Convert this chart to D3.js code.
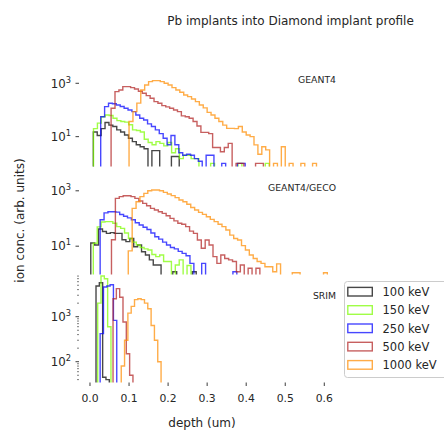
<!DOCTYPE html>
<html>
<head>
<meta charset="utf-8">
<script src="https://cdn.jsdelivr.net/npm/d3@7"></script>
<style>
  html, body { margin: 0; padding: 0; background: #fff; }
  svg { display: block; font-family: "DejaVu Sans", sans-serif; }
</style>
</head>
<body>
<div id="chart"></div>
<script>
// ---------------- DATA ----------------
const energies = ["100 keV", "150 keV", "250 keV", "500 keV", "1000 keV"];
const colors = ["#000000", "#7cfc00", "#0000ff", "#b22222", "#ff8c00"];
const panelNames = ["GEANT4", "GEANT4/GECO", "SRIM"];
const xTicks = [0.0, 0.1, 0.2, 0.3, 0.4, 0.5, 0.6];

// histogram bin width (um) per panel
const binWidths = [0.01, 0.01, 0.0085];

// first bin edge (um) per series, per panel
const startsG4   = [0.0085, 0.009, 0.0274, 0.054, 0.10];
const startsGECO = [0.002, 0.0085, 0.026, 0.055, 0.098];
const startsSRIM = [0.0154, 0.0197, 0.026, 0.059, 0.080];

// GEANT4 counts
const g4_100  = [15, 11, 20, 34, 27, 24, 18, 15, 11.5, 8.7, 6.5, 5, 4.2, 3.5, 0, 3, 3, 0, 0, 0, 1.8, 1.8];
const g4_150  = [20, 32, 56, 65, 62, 49, 40, 37, 35, 28, 18, 17, 15, 8, 6, 5, 6.5, 5.6, 4.5, 6, 2.5, 3.5, 1.5, 2, 2, 1.5, 1.5, 0, 0, 0, 1, 0, 0, 0, 0, 0, 0, 1, 0, 0, 0, 0, 0, 0, 1];
const g4_250  = [56, 133, 178, 170, 154, 135, 116, 100, 87, 65, 49, 42, 30, 24, 18, 13, 8.7, 5, 11, 5, 2.5, 2, 2.2, 2, 1.5, 1.2, 0, 2, 2, 0, 0, 1, 0, 0, 0, 1, 1];
const g4_500  = [116, 487, 562, 750, 750, 688, 613, 500, 422, 345, 274, 205, 178, 145, 130, 116, 100, 87, 60, 56, 49, 37, 25, 14.5, 14.5, 13, 3.9, 3.9, 2.7, 3.9, 5.6, 0, 1, 1, 0, 0, 0, 1, 1];
const g4_1000 = [37, 87, 180, 562, 866, 1155, 1260, 1260, 1155, 1000, 866, 688, 562, 459, 365, 316, 259, 205, 154, 120, 81, 65, 49, 37, 27, 20.5, 20.5, 20, 24, 15, 11.5, 10, 4.9, 2.2, 4.2, 3.2, 0, 1, 0, 4.2, 0, 1, 0, 0, 1, 0, 0, 1];

// GEANT4/GECO counts
const ge_100  = [13, 11, 42, 34, 29, 31, 29, 29, 17, 14.6, 19, 9.6, 11, 6.3, 4.8, 3.2, 2.1, 2.1, 0, 0, 0, 1.2, 0, 0, 0, 0, 1.2];
const ge_150  = [12.7, 50, 75, 77, 77, 67, 51, 44, 30, 19, 14, 11, 9, 8, 7.3, 5, 4.2, 4.8, 2.8, 2.8, 0, 2.1, 3.2, 0, 2];
const ge_250  = [90, 160, 176, 176, 170, 140, 120, 105, 90, 70, 58, 48, 40, 30, 22, 18, 14, 11, 9, 8, 6.5, 5.5, 4.5, 2.4, 0, 0, 2.4, 0, 0, 0, 0, 0, 0, 0, 1.2];
const ge_500  = [17, 534, 614, 660, 660, 614, 534, 430, 353, 290, 233, 203, 176, 153, 125, 101, 82, 67, 62, 51, 35, 29, 16.7, 8.4, 16.7, 11, 4.2, 2.4, 4.8, 3.6, 3.2, 2.8, 1.2, 2.1, 0, 1.6, 0, 1.6];
const ge_1000 = [6.8, 233, 405, 614, 810, 1000, 1070, 1070, 1000, 880, 770, 670, 565, 465, 405, 325, 250, 203, 167, 141, 116, 93, 77, 62, 51, 38.5, 25, 19, 16.7, 10.5, 7.3, 4.8, 3.6, 2.8, 2.4, 1.8, 1.8, 1.2, 2.3, 0, 0, 0, 1.1, 1.1, 0, 0, 0, 0, 0, 0, 1.1];

// SRIM counts
const sr_100  = [4800, 5700, 45, 40];
const sr_150  = [2000, 8000, 7000, 600];
const sr_250  = [420, 4560, 4800, 5140, 830];
const sr_500  = [2500, 4200, 2700, 760, 150, 50];
const sr_1000 = [80, 300, 1200, 1700, 2400, 2500, 2400, 2000, 1500, 640, 300, 100];

// y-axis (log) limits and labelled ticks per panel
const yDomains = [[0.794, 8130], [0.99, 7240], [35.4, 8450]];
const yTicks = [[10, 1000], [10, 1000], [100, 1000]];

// ---------------- LAYOUT ----------------
const W = 444, H = 434;
const L = 79, R = 328;
const panelTops = [59, 167, 275];
const panelBottoms = [166, 274, 382];

const panelSeries = [
  { starts: startsG4,   data: [g4_100, g4_150, g4_250, g4_500, g4_1000] },
  { starts: startsGECO, data: [ge_100, ge_150, ge_250, ge_500, ge_1000] },
  { starts: startsSRIM, data: [sr_100, sr_150, sr_250, sr_500, sr_1000] }
];

const svg = d3.select("#chart").append("svg")
  .attr("width", W).attr("height", H)
  .attr("viewBox", `0 0 ${W} ${H}`);
svg.append("rect").attr("width", W).attr("height", H).attr("fill", "#fff");

const x = d3.scaleLinear().domain([-0.02817, 0.6095]).range([L, R]);

const textColor = "#262626";

panelSeries.forEach((p, pi) => {
  const top = panelTops[pi], bottom = panelBottoms[pi];
  const y = d3.scaleLog().domain(yDomains[pi]).range([bottom, top]);
  const floorY = bottom + 20;
  const g = svg.append("g");

  const clipId = "clip" + pi;
  svg.append("clipPath").attr("id", clipId)
    .append("rect").attr("x", L).attr("y", top - 2)
    .attr("width", R - L).attr("height", bottom - top + 2.6);

  const line = d3.line().curve(d3.curveStepAfter)
    .x(d => x(d[0]))
    .y(d => d[1] > 0 ? y(d[1]) : floorY);

  const w = binWidths[pi];
  p.data.forEach((counts, si) => {
    const s = p.starts[si];
    const pts = [[s, 0]];
    counts.forEach((v, i) => pts.push([s + i * w, v]));
    pts.push([s + counts.length * w, 0]);
    g.append("path")
      .attr("clip-path", `url(#${clipId})`)
      .attr("d", line(pts))
      .attr("fill", "none")
      .attr("stroke", colors[si])
      .attr("stroke-opacity", 0.72)
      .attr("stroke-width", 1.4)
      .attr("stroke-linejoin", "miter");
  });

  // y ticks
  const yt = svg.append("g");
  yTicks[pi].forEach(t => {
    const yy = y(t);
    yt.append("line").attr("x1", L - 3.5).attr("x2", L).attr("y1", yy).attr("y2", yy)
      .attr("stroke", textColor).attr("stroke-width", 0.9);
    const e = Math.round(Math.log10(t));
    const txt = yt.append("text").attr("x", L - 8).attr("y", yy + 4.3)
      .attr("text-anchor", "end").attr("font-size", 11.8).attr("fill", textColor);
    txt.append("tspan").text("10");
    txt.append("tspan").attr("font-size", 8.3).attr("dy", -5).text(String(e));
  });
  if (pi === 2) {
    // minor log ticks
    const [lo, hi] = yDomains[pi];
    const minors = [];
    for (let dec = 1; dec <= 1000; dec *= 10) {
      for (let k = 2; k <= 9; k++) {
        const v = k * dec;
        if (v >= lo && v <= hi) minors.push(v);
      }
    }
    minors.forEach(v => {
      yt.append("line").attr("x1", L - 2).attr("x2", L).attr("y1", y(v)).attr("y2", y(v))
        .attr("stroke", textColor).attr("stroke-width", 0.6);
    });
  }

  // panel label
  svg.append("text").attr("x", 336).attr("y", top + 24)
    .attr("text-anchor", "end").attr("font-size", 9.3).attr("fill", textColor)
    .text(panelNames[pi]);
});

// x axis (bottom panel only)
const xb = panelBottoms[2];
const xa = svg.append("g");
xTicks.forEach(t => {
  xa.append("line").attr("x1", x(t)).attr("x2", x(t)).attr("y1", xb + 0.5).attr("y2", xb + 4)
    .attr("stroke", textColor).attr("stroke-width", 0.9);
  xa.append("text").attr("x", x(t)).attr("y", xb + 19.5)
    .attr("text-anchor", "middle").attr("font-size", 10.8).attr("fill", textColor)
    .text(d3.format(".1f")(t));
});

// axis labels
svg.append("text").attr("x", 202).attr("y", 427)
  .attr("text-anchor", "middle").attr("font-size", 12).attr("fill", textColor)
  .text("depth (um)");
svg.append("text")
  .attr("transform", `translate(24,${(panelTops[1] + panelBottoms[1]) / 2}) rotate(-90)`)
  .attr("text-anchor", "middle").attr("font-size", 12).attr("fill", textColor)
  .text("ion conc. (arb. units)");

// title
svg.append("text").attr("x", 290.5).attr("y", 25)
  .attr("text-anchor", "middle").attr("font-size", 12).attr("fill", textColor)
  .text("Pb implants into Diamond implant profile");

// legend
const lg = svg.append("g");
lg.append("rect").attr("x", 344.5).attr("y", 281.5).attr("width", 110).attr("height", 96)
  .attr("rx", 3).attr("fill", "#fff").attr("fill-opacity", 0.85)
  .attr("stroke", "#cccccc").attr("stroke-width", 1);
energies.forEach((name, i) => {
  const cy = 291.7 + i * 18.3;
  lg.append("rect").attr("x", 347.8).attr("y", cy - 4.3).attr("width", 24.5).attr("height", 8.6)
    .attr("fill", "none").attr("stroke", colors[i]).attr("stroke-opacity", 0.72).attr("stroke-width", 1.4);
  lg.append("text").attr("x", 382.5).attr("y", cy + 4.2)
    .attr("font-size", 11.5).attr("fill", textColor).text(name);
});
</script>
</body>
</html>
